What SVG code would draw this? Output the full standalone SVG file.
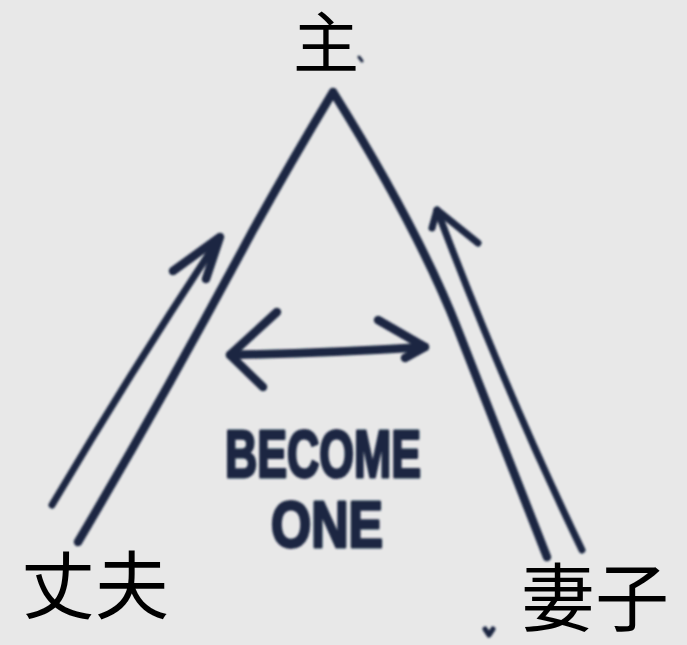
<svg xmlns="http://www.w3.org/2000/svg" width="687" height="645" viewBox="0 0 687 645">
  <style>
    .ink { fill: none; stroke: #1c2743; stroke-width: 8.5; stroke-linecap: round; stroke-linejoin: round; }
    .thin { stroke-width: 7; }
    .cjk { font-family: "Noto Sans CJK SC", "Noto Sans CJK TC", sans-serif; fill: #000; }
    .hand { font-family: "Liberation Sans", "DejaVu Sans", sans-serif; font-weight: bold; fill: #1c2743; stroke: #1c2743; stroke-width: 3; stroke-linejoin: round; }
  </style>
  <defs>
    <filter id="soft" x="-5%" y="-5%" width="110%" height="110%">
      <feGaussianBlur stdDeviation="0.8"/>
    </filter>
  </defs>
  <rect width="687" height="645" fill="#e8e8e8"/>

  <g id="connectors" filter="url(#soft)">
    <!-- big triangle -->
    <path class="ink" d="M78,542 Q165,395 252,232 Q292,160 333,92 Q418,228 458,330 T547,557"/>
    <!-- husband arrow -->
    <path class="ink thin" d="M52,505 Q135,365 220,237"/>
    <path class="ink" d="M173,271 L220,237 L206,279"/>
    <!-- wife arrow -->
    <path class="ink thin" d="M582,550 Q505,390 437,210"/>
    <path class="ink thin" d="M478,243 L437,210 L432,228"/>
    <!-- become-one double arrow -->
    <path class="ink" d="M230,355 Q330,353 425,347"/>
    <path class="ink" d="M277,312 L230,355 L263,387"/>
    <path class="ink" d="M378,320 L425,347 L405,358"/>
    <!-- small marks -->
    <path class="ink" style="stroke-width:3" d="M359,57 L362,61"/>
    <path class="ink" style="stroke-width:5" d="M485,629 L489,635 L493,629"/>
  </g>

  <g id="node-lord">
    <text class="cjk" x="326" y="67" font-size="66" text-anchor="middle">主</text>
  </g>
  <g id="node-husband">
    <text class="cjk" x="21" y="613" font-size="74">丈夫</text>
  </g>
  <g id="node-wife">
    <text class="cjk" x="521" y="625" font-size="74">妻子</text>
  </g>
  <g id="node-become-one" filter="url(#soft)">
    <text class="hand" x="225" y="477" font-size="66" textLength="196" lengthAdjust="spacingAndGlyphs">BECOME</text>
    <text class="hand" x="271" y="547" font-size="64" textLength="112" lengthAdjust="spacingAndGlyphs">ONE</text>
  </g>
</svg>
